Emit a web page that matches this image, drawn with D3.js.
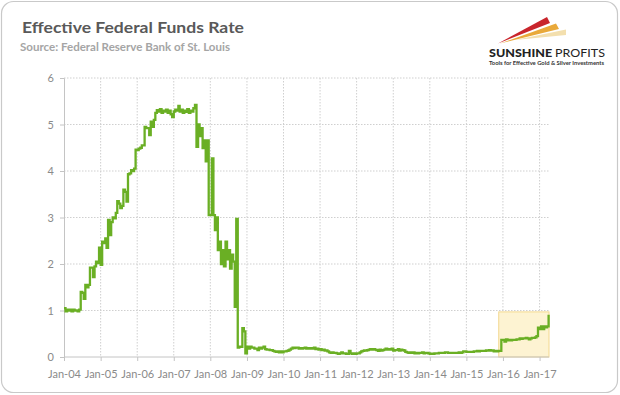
<!DOCTYPE html>
<html>
<head>
<meta charset="utf-8">
<script src="https://cdn.jsdelivr.net/npm/d3@7"></script>
<style>
  html, body { margin: 0; padding: 0; background: #fff; }
  svg { display: block; }
  text { font-family: Lato, "Open Sans", sans-serif; }
</style>
</head>
<body>
<svg id="chart" width="620" height="395"></svg>
<script>
// Effective federal funds rate, semi-monthly readings (1st and 16th of each month), percent
const rate2004 = [1.05,0.98, 1.02,1.00, 1.02,0.98, 1.02,1.00, 1.00,0.98, 1.02,1.40, 1.38,1.25, 1.55,1.50, 1.55,1.92, 1.92,1.72, 1.95,2.05, 2.02,2.35];
const rate2005 = [1.98,2.48, 2.45,2.55, 2.35,2.95, 2.62,2.90, 3.00,2.98, 3.10,3.35, 3.30,3.20, 3.25,3.60, 3.55,3.34, 3.93,3.95, 4.02,4.00, 4.05,4.46];
const rate2006 = [4.45,4.48, 4.50,4.55, 4.55,4.95, 4.92,4.92, 4.77,5.06, 4.95,5.10, 5.25,5.31, 5.28,5.33, 5.25,5.30, 5.28,5.32, 5.25,5.30, 5.22,5.16];
const rate2007 = [5.28,5.32, 5.30,5.40, 5.28,5.32, 5.25,5.30, 5.27,5.33, 5.25,5.30, 5.28,5.35, 5.42,4.52, 5.00,4.75, 4.92,4.49, 4.66,4.21, 4.66,3.05];
const rate2008 = [3.05,4.27, 3.05,2.73, 3.00,2.30, 2.48,2.00, 2.30,1.95, 2.48,2.10, 2.30,1.90, 2.20,2.05, 1.08,2.97, 0.20,0.22, 0.22,0.62, 0.55,0.08];
const rate2009 = [0.22,0.18, 0.22,0.20, 0.20,0.18, 0.18,0.15, 0.20,0.18, 0.20,0.22, 0.17,0.16, 0.16,0.15, 0.15,0.13, 0.12,0.11, 0.12,0.10, 0.12,0.10];
const rate2010 = [0.12,0.12, 0.13,0.14, 0.16,0.18, 0.20,0.19, 0.20,0.20, 0.18,0.19, 0.18,0.19, 0.20,0.18, 0.19,0.18, 0.19,0.18, 0.20,0.17, 0.18,0.16];
const rate2011 = [0.17,0.15, 0.16,0.14, 0.14,0.12, 0.10,0.09, 0.10,0.09, 0.09,0.08, 0.07,0.08, 0.10,0.08, 0.08,0.07, 0.07,0.13, 0.08,0.07, 0.08,0.07];
const rate2012 = [0.08,0.08, 0.10,0.12, 0.13,0.14, 0.14,0.15, 0.16,0.17, 0.16,0.17, 0.16,0.15, 0.13,0.16, 0.14,0.15, 0.16,0.18, 0.16,0.17, 0.16,0.18];
const rate2013 = [0.14,0.15, 0.15,0.17, 0.14,0.16, 0.15,0.14, 0.11,0.10, 0.09,0.10, 0.09,0.10, 0.08,0.09, 0.08,0.09, 0.09,0.10, 0.08,0.09, 0.09,0.08];
const rate2014 = [0.07,0.07, 0.07,0.08, 0.08,0.08, 0.09,0.09, 0.09,0.09, 0.10,0.10, 0.09,0.09, 0.09,0.09, 0.09,0.09, 0.09,0.10, 0.09,0.10, 0.12,0.12];
const rate2015 = [0.11,0.11, 0.11,0.11, 0.11,0.12, 0.12,0.13, 0.12,0.13, 0.13,0.13, 0.13,0.14, 0.14,0.15, 0.14,0.14, 0.12,0.13, 0.12,0.13, 0.13,0.37];
const rate2016 = [0.37,0.33, 0.38,0.36, 0.37,0.36, 0.37,0.37, 0.37,0.38, 0.38,0.40, 0.39,0.40, 0.40,0.41, 0.40,0.38, 0.40,0.41, 0.41,0.42, 0.45,0.63];
const rate2017 = [0.60,0.66, 0.60,0.66, 0.64,0.66, 0.91];

const startYear = 2004;
const yearSeries = [rate2004, rate2005, rate2006, rate2007, rate2008, rate2009, rate2010,
                    rate2011, rate2012, rate2013, rate2014, rate2015, rate2016, rate2017];

const yTicks = [0, 1, 2, 3, 4, 5, 6];
const xTickYears = [2004, 2005, 2006, 2007, 2008, 2009, 2010, 2011, 2012, 2013, 2014, 2015, 2016, 2017];

const titleText = "Effective Federal Funds Rate";
const subtitleText = "Source: Federal Reserve Bank of St. Louis";

// highlighted recent period (date span and rate ceiling)
const highlightStart = new Date(2015, 10, 20);
const highlightEnd = new Date(2017, 3, 5);
const highlightTop = 0.97;

// ---------- build data ----------
const data = [];
yearSeries.forEach((arr, yi) => {
  arr.forEach((v, i) => {
    data.push({ date: new Date(startYear + yi, Math.floor(i / 2), i % 2 ? 16 : 1), value: v });
  });
});

// ---------- layout ----------
const svg = d3.select("#chart");
const plot = { left: 64, right: 549, top: 78, bottom: 357 };

const x = d3.scaleTime()
  .domain([new Date(2004, 0, 1), new Date(2017, 3, 5)])
  .range([plot.left, plot.right]);
const y = d3.scaleLinear().domain([0, 6]).range([plot.bottom, plot.top]);

// frame
svg.append("rect")
  .attr("x", 1.5).attr("y", 1.5).attr("width", 616).attr("height", 391)
  .attr("rx", 12).attr("ry", 12)
  .attr("fill", "#fff").attr("stroke", "#c9c9c9").attr("stroke-width", 1.2);

// title
svg.append("text").attr("x", 22).attr("y", 33)
  .attr("font-size", 15.5).attr("font-weight", 700).attr("fill", "#595959")
  .attr("textLength", 222).attr("lengthAdjust", "spacingAndGlyphs")
  .text(titleText);
svg.append("text").attr("x", 20).attr("y", 50.5)
  .attr("font-size", 11).attr("font-weight", 700).attr("fill", "#a5a5a5")
  .attr("textLength", 210).attr("lengthAdjust", "spacingAndGlyphs")
  .text(subtitleText);

// logo
const logo = svg.append("g");
logo.append("polygon").attr("points", "515,40 566,29.5 566,35").attr("fill", "#f3dfae");
logo.append("polygon").attr("points", "500,43.5 556,23.5 559,29").attr("fill", "#e9a93a");
logo.append("polygon").attr("points", "498,43.5 547,17 550,23").attr("fill", "#c9252c");
const brand = logo.append("text").attr("x", 489).attr("y", 57)
  .attr("font-size", 10.5).attr("fill", "#222")
  .attr("textLength", 116).attr("lengthAdjust", "spacingAndGlyphs");
brand.append("tspan").attr("font-weight", 900).text("SUNSHINE ");
brand.append("tspan").attr("font-weight", 400).text("PROFITS");
logo.append("text").attr("x", 489).attr("y", 64.5)
  .attr("font-size", 4.6).attr("fill", "#333").attr("font-weight", 700)
  .attr("textLength", 115).attr("lengthAdjust", "spacingAndGlyphs")
  .text("Tools for Effective Gold & Silver Investments");

// gridlines
const grid = svg.append("g");
grid.selectAll("line.h").data(yTicks.filter(d => d > 0)).join("line")
  .attr("x1", plot.left).attr("x2", plot.right)
  .attr("y1", d => y(d)).attr("y2", d => y(d))
  .attr("stroke", "#cfcfcf").attr("stroke-dasharray", "1.5,1.5");
grid.selectAll("line.v").data(xTickYears.filter(d => d > 2004)).join("line")
  .attr("x1", d => x(new Date(d, 0, 1))).attr("x2", d => x(new Date(d, 0, 1)))
  .attr("y1", plot.top).attr("y2", plot.bottom)
  .attr("stroke", "#cfcfcf").attr("stroke-dasharray", "1.5,1.5");

// highlight box
svg.append("rect")
  .attr("x", x(highlightStart)).attr("y", y(highlightTop))
  .attr("width", x(highlightEnd) - x(highlightStart))
  .attr("height", y(0) - y(highlightTop))
  .attr("fill", "#fdf3d2").attr("stroke", "#f3d88f").attr("stroke-width", 1);

// axes
const yAxis = svg.append("g").attr("transform", `translate(${plot.left},0)`)
  .call(d3.axisLeft(y).tickValues(yTicks).tickSize(4).tickPadding(6).tickFormat(d3.format("d")));
const xAxis = svg.append("g").attr("transform", `translate(0,${plot.bottom})`)
  .call(d3.axisBottom(x).tickValues(xTickYears.map(d => new Date(d, 0, 1)))
    .tickSize(4).tickPadding(9).tickFormat(d3.timeFormat("Jan-%y")));
[yAxis, xAxis].forEach(a => {
  a.select(".domain").attr("stroke", "#c4c4c4");
  a.selectAll(".tick line").attr("stroke", "#c4c4c4");
  a.selectAll(".tick text").attr("fill", "#8a8a8a").attr("font-size", 11)
    .attr("font-family", "Lato, 'Open Sans', sans-serif");
});
xAxis.select(".domain").attr("d", `M${plot.left},0H${plot.right}`);

// series line
const line = d3.line()
  .x(d => x(d.date)).y(d => y(d.value))
  .curve(d3.curveStepAfter);
svg.append("path").datum(data)
  .attr("d", line)
  .attr("fill", "none")
  .attr("stroke", "#6aaf24")
  .attr("stroke-width", 2.3)
  .attr("stroke-linejoin", "miter");
</script>
</body>
</html>
